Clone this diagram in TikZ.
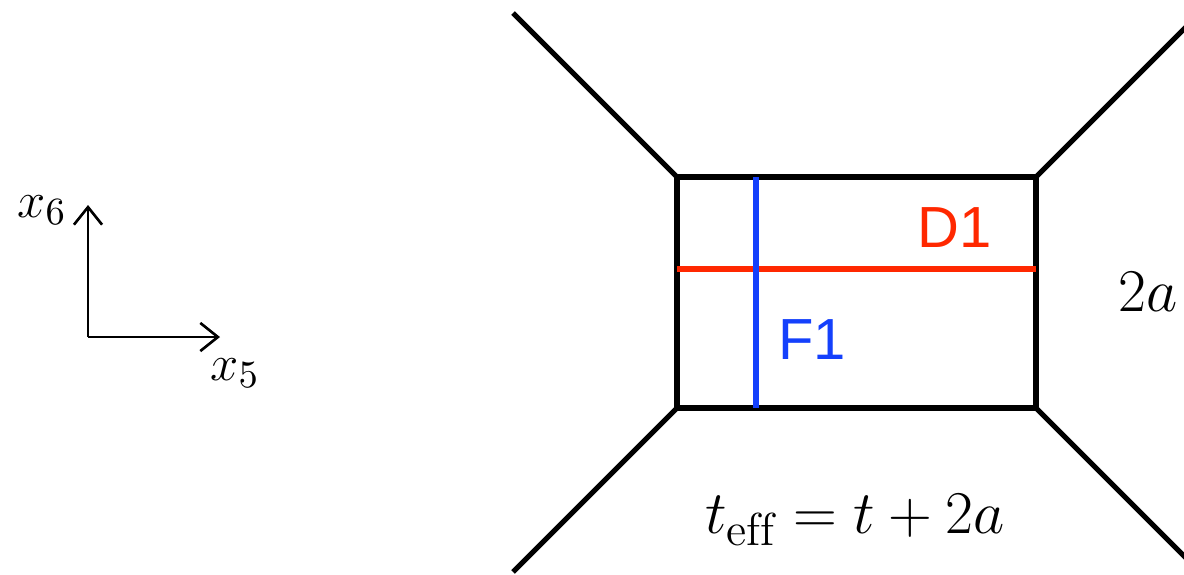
\documentclass[tikz,border=0pt]{standalone}
\usepackage{fontspec}
\newfontfamily\labelfont{Liberation Sans}
\usetikzlibrary{arrows.meta}
\definecolor{dred}{RGB}{255,40,0}
\definecolor{fblue}{RGB}{20,64,252}

\begin{document}
\begin{tikzpicture}[
    web/.style={line width=1.45pt, black},
    dfive/.style={line width=1.5pt, color=dred},
    fbrane/.style={line width=1.5pt, color=fblue},
    axis/.style={-{Straight Barb[length=5pt, width=8pt]}, line width=0.75pt},
    branelabel/.style={font=\labelfont\fontsize{16.5}{18}\selectfont},
    mathlabel/.style={font=\fontsize{18.8}{22}\selectfont},
    axlabel/.style={font=\fontsize{15}{17}\selectfont},
]
\useasboundingbox (0,0) rectangle (11.84,5.74);

% === coordinate axes ===
\coordinate (o) at (0.88, 2.37);
\coordinate (ex) at (2.20, 2.37);
\coordinate (ey) at (0.88, 3.69);
\draw[axis] (o) -- (ex);
\draw[axis] (o) -- (ey);
\node[axlabel] (x6) at (0.42, 3.64) {$x_6$};
\node[axlabel] (x5) at (2.35, 2.01) {$x_5$};

% === box corners ===
\coordinate (bl) at (6.77, 1.66);
\coordinate (br) at (10.36, 1.66);
\coordinate (tr) at (10.36, 3.97);
\coordinate (tl) at (6.77, 3.97);

% external legs
\coordinate (ltl) at (5.13, 5.61);
\coordinate (lbl) at (5.13, 0.02);
\coordinate (ltr) at (11.94, 5.55);
\coordinate (lbr) at (11.94, 0.08);

% === web ===
\draw[web] (bl) -- (br) -- (tr) -- (tl) -- cycle;
\draw[web] (tl) -- (ltl);
\draw[web] (bl) -- (lbl);
\draw[web] (tr) -- (ltr);
\draw[web] (br) -- (lbr);

% D1 and F1
\coordinate (dl) at (6.77, 3.05);
\coordinate (dr) at (10.36, 3.05);
\coordinate (ft) at (7.56, 3.97);
\coordinate (fb) at (7.56, 1.66);
\draw[dfive] (dl) -- (dr);
\draw[fbrane] (ft) -- (fb);

% labels
\node[branelabel, text=dred] (d1) at (9.55, 3.46) {D1};
\node[branelabel, text=fblue] (f1) at (8.12, 2.34) {F1};
\node[mathlabel] (height) at (11.48, 2.82) {$2a$};
\node[mathlabel] (teff) at (8.55, 0.54) {$t_{\mathrm{eff}} = t + 2a$};

\end{tikzpicture}
\end{document}
